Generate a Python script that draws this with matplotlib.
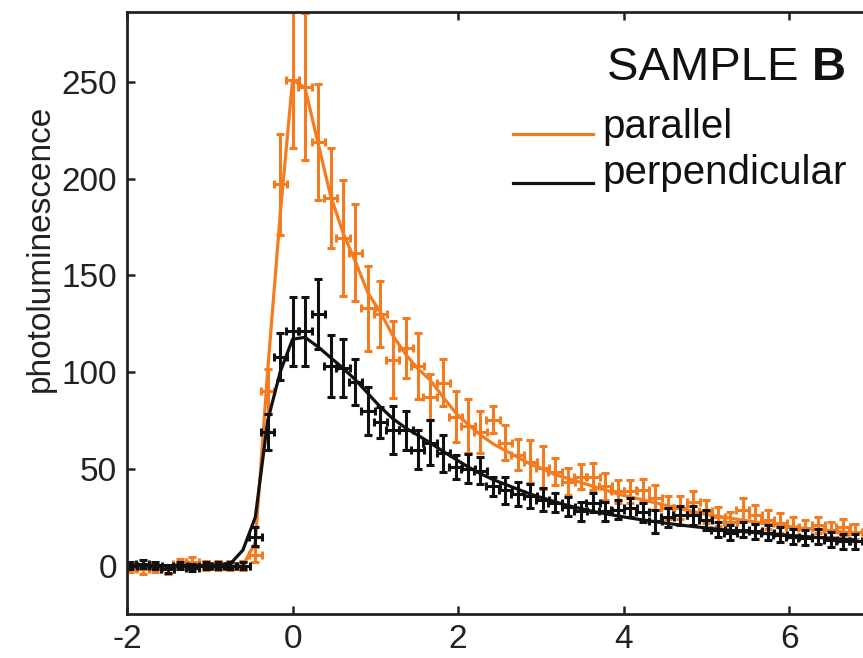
import matplotlib
matplotlib.use("Agg")
import matplotlib.pyplot as plt

plt.rcParams['font.family'] = ['Liberation Sans', 'DejaVu Sans']

# ---------------- data ----------------
times = [-1.96, -1.81, -1.66, -1.51, -1.36, -1.21, -1.05, -0.90, -0.75, -0.60,
         -0.45, -0.30, -0.15, 0.00, 0.15, 0.31, 0.46, 0.61, 0.76, 0.91,
         1.06, 1.21, 1.37, 1.51, 1.66, 1.82, 1.97, 2.12, 2.27, 2.42,
         2.57, 2.72, 2.87, 3.02, 3.17, 3.33, 3.48, 3.63, 3.78, 3.93,
         4.08, 4.23, 4.38, 4.53, 4.68, 4.84, 4.99, 5.14, 5.29, 5.44,
         5.59, 5.74, 5.89, 6.04, 6.19, 6.35, 6.50, 6.65, 6.80]

parallel = [-1, -2, -1, -2, 1, 2, 0, 0, 0, 0,
            5.7, 90, 197, 251, 247.5, 219, 190, 169.5, 161.8, 133,
            130, 106.5, 112.7, 103, 87, 94.6, 77, 72, 69, 75.5,
            63.5, 57.4, 53.7, 50.6, 48.5, 43.4, 46, 46, 41, 38.4,
            38.4, 39, 35, 30, 30, 33, 28, 25.3, 22.7, 29,
            26.4, 23.8, 22, 20, 19.5, 21, 18.6, 20, 17.6]
parallel_err = [2.5, 2.5, 2.5, 2.5, 2.5, 2.5, 2.5, 2.5, 2.5, 2.5,
                4, 11.6, 26, 35, 38, 30, 26, 30, 25, 22,
                17, 20, 15.5, 17, 12, 12, 13, 14, 11, 7,
                9, 8, 11, 11, 7, 7, 6.5, 7, 7, 6,
                6, 6, 6.5, 6, 6, 5.5, 6, 5, 5, 6,
                5, 5, 5, 5, 4, 4, 4, 4, 4]
parallel_fit = [0, 0, 0, 0, 0, 0, 0, 0, 0, 0,
                12, 101, 181, 251, 247, 218, 191, 172, 157, 141,
                131, 119, 109, 102, 96, 87, 79, 73, 67.5, 63,
                59.5, 56, 52.5, 50, 47, 45, 43, 41, 39, 37,
                35.5, 34, 32.5, 31, 29.5, 28, 26.5, 25.5, 24.5, 23.5,
                22.5, 21.5, 20.7, 20, 19.3, 18.6, 18, 17.4, 16.8]

perpendicular = [0, 1, 0, -2, 0, -1, 0, 0, 0, 0,
                 15, 69, 108, 121, 121, 130, 103, 102, 95, 80,
                 74, 70, 70, 60, 63.5, 58, 51, 50, 49, 41,
                 39, 37, 36, 34, 32.5, 30.5, 28, 32.5, 28, 29,
                 30, 27.5, 23, 25, 26, 26, 23.5, 18.6, 17, 18.6,
                 17.7, 17, 16, 15, 14.5, 15, 13.4, 12.6, 12.6]
perpendicular_err = [2, 2, 2, 2, 2, 2, 2, 2, 2, 2,
                     5, 9.5, 12, 18, 18, 18, 16, 15, 12, 12.5,
                     8, 12.5, 10, 10, 11.5, 9.5, 6, 7.5, 7, 5,
                     7, 6, 6, 6, 5, 5, 5, 5, 5, 5,
                     5, 5, 6, 5, 5, 5, 5, 4, 4, 4,
                     4, 4, 4, 4, 4, 4, 4, 4, 4]
perpendicular_fit = [0, 0, 0, 0, 0, 0, 0, 0, 1, 8,
                     25, 75, 100, 117, 118, 113, 107.5, 102, 96, 89,
                     82, 76, 71, 67.5, 63.5, 59, 55, 51, 47.5, 44.5,
                     42, 39.5, 37, 35, 33, 31, 29.5, 28, 26.8, 25.7,
                     24.6, 23.6, 22.7, 21.8, 21, 20.2, 19.5, 18.8, 18.2, 17.6,
                     17, 16.5, 16, 15.5, 15, 14.5, 14.1, 13.7, 13.3]

time_err = 0.08
xticks = [-2, 0, 2, 4, 6]
yticks = [0, 50, 100, 150, 200, 250]

ORANGE = '#F47B20'
BLACK = '#111111'

# ---------------- figure ----------------
W, H = 863, 658
fig = plt.figure(figsize=(W / 100, H / 100), dpi=100)
ax_left, ax_bottom, ax_w, ax_h = 127, 44, 745, 601.8
ax = fig.add_axes([ax_left / W, ax_bottom / H, ax_w / W, ax_h / H])
ax.set_xlim(-2, 7)
ax.set_ylim(-25, 286)

for vals, errs, fit, col in [(parallel, parallel_err, parallel_fit, ORANGE),
                             (perpendicular, perpendicular_err, perpendicular_fit, BLACK)]:
    ax.errorbar(times, vals, yerr=errs, xerr=time_err, fmt='none', ecolor=col,
                elinewidth=2.2, capsize=2.6, capthick=2.2)
    ax.plot(times, fit, color=col, lw=2.3)

ax.set_xticks(xticks)
ax.set_xticklabels([str(t) for t in xticks])
ax.set_yticks(yticks)
ax.tick_params(direction='in', length=6, width=1.8, top=True, right=True,
               labelsize=24, colors='#222222', labelcolor='#222222')
ax.tick_params(axis='x', pad=7)
ax.tick_params(axis='y', pad=7)
for s in ax.spines.values():
    s.set_linewidth(2.0)
    s.set_color('#222222')

ax.set_ylabel('photoluminescence', fontsize=24, color='#222222')
ax.yaxis.set_label_coords((56 - ax_left) / ax_w, (614 - 248) / ax_h)

def axc(px, py):
    return ((px - ax_left) / ax_w, (614 - py) / ax_h)

# title-like label
t1 = ax.text(*axc(607, 80), 'SAMPLE ', transform=ax.transAxes, fontsize=34,
             va='baseline', ha='left', color='#111111')
ax.annotate('B', xy=(1, 0), xycoords=t1, va='bottom', ha='left', fontsize=34,
            fontweight='bold', color='#111111')

# legend drawn manually
for label, col, py_line, py_text in [('parallel', ORANGE, 134, 138),
                                     ('perpendicular', BLACK, 183, 184)]:
    x0, y0 = axc(513, py_line)
    x1, _ = axc(593, py_line)
    ax.plot([x0, x1], [y0, y0], color=col, lw=2.3, transform=ax.transAxes, clip_on=False)
    ax.text(*axc(602, py_text), label, transform=ax.transAxes, fontsize=29,
            va='baseline', ha='left', color='#111111')

fig.savefig('out.png', dpi=100)
